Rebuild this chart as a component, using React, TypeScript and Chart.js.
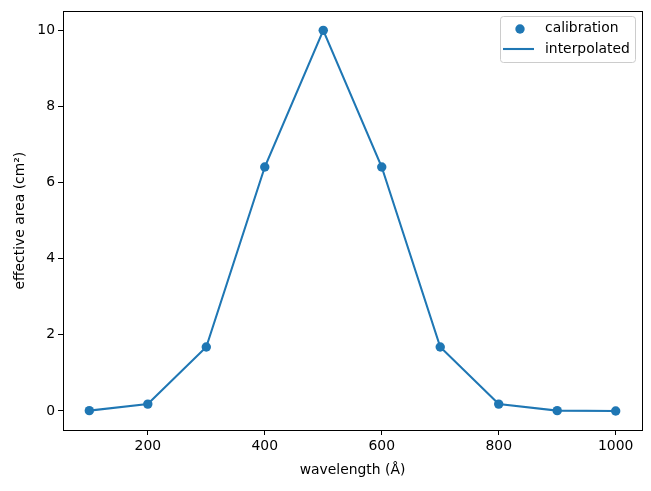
import React, { useEffect, useRef } from "react";
import { Chart, registerables } from "chart.js";

Chart.register(...registerables);

const wavelengths = [100, 200, 300, 400, 500, 600, 700, 800, 900, 1000];
const calibrationArea = [0.008, 0.18, 1.68, 6.41, 10, 6.41, 1.68, 0.18, 0.008, 0.0001];
const interpolatedArea = [0.008, 0.18, 1.68, 6.41, 10, 6.41, 1.68, 0.18, 0.008, 0.0001];
const xTicks = [200, 400, 600, 800, 1000];
const yTicks = [0, 2, 4, 6, 8, 10];
const seriesLabels = ["calibration", "interpolated"];

const BLUE = "#1f77b4";
const FONT = "DejaVu Sans";
const FS = 13.9;

const framePlugin = {
  id: "frame",
  afterDraw(chart: any) {
    const { ctx, chartArea: a } = chart;
    ctx.save();
    ctx.strokeStyle = "#000";
    ctx.lineWidth = 1;
    ctx.strokeRect(Math.round(a.left) + 0.5, Math.round(a.top) + 0.5, Math.round(a.right - a.left), Math.round(a.bottom - a.top));
    // legend
    const bx = 500.5, by = 16.5, bw = 135, bh = 46, r = 3;
    ctx.beginPath();
    ctx.moveTo(bx + r, by);
    ctx.lineTo(bx + bw - r, by);
    ctx.arcTo(bx + bw, by, bx + bw, by + r, r);
    ctx.lineTo(bx + bw, by + bh - r);
    ctx.arcTo(bx + bw, by + bh, bx + bw - r, by + bh, r);
    ctx.lineTo(bx + r, by + bh);
    ctx.arcTo(bx, by + bh, bx, by + bh - r, r);
    ctx.lineTo(bx, by + r);
    ctx.arcTo(bx, by, bx + r, by, r);
    ctx.closePath();
    ctx.fillStyle = "rgba(255,255,255,0.8)";
    ctx.fill();
    ctx.strokeStyle = "#cccccc";
    ctx.stroke();
    ctx.fillStyle = BLUE;
    ctx.beginPath();
    ctx.arc(520, 29, 4.7, 0, Math.PI * 2);
    ctx.fill();
    ctx.strokeStyle = BLUE;
    ctx.lineWidth = 2.1;
    ctx.beginPath();
    ctx.moveTo(503, 49);
    ctx.lineTo(534, 49);
    ctx.stroke();
    ctx.fillStyle = "#000";
    ctx.font = `${FS}px "${FONT}"`;
    ctx.textBaseline = "middle";
    ctx.textAlign = "left";
    ctx.fillText(seriesLabels[0], 545, 28);
    ctx.fillText(seriesLabels[1], 545, 49);
    ctx.restore();
  },
};

export default function App() {
  const ref = useRef<HTMLCanvasElement>(null);
  useEffect(() => {
    const chart = new Chart(ref.current!, {
      type: "scatter",
      data: {
        datasets: [
          {
            label: seriesLabels[0],
            data: wavelengths.map((x, i) => ({ x, y: calibrationArea[i] })),
            backgroundColor: BLUE,
            borderColor: BLUE,
            pointRadius: 4.7,
            pointBorderWidth: 0,
            showLine: false,
            order: 2,
          },
          {
            label: seriesLabels[1],
            data: wavelengths.map((x, i) => ({ x, y: interpolatedArea[i] })),
            borderColor: BLUE,
            backgroundColor: BLUE,
            borderWidth: 2.1,
            pointRadius: 0,
            showLine: true,
            order: 1,
          },
        ],
      },
      options: {
        responsive: false,
        animation: false,
        layout: { padding: { left: 0, right: 9, top: 9, bottom: 0 } },
        plugins: { legend: { display: false }, tooltip: { enabled: false } },
        scales: {
          x: {
            type: "linear",
            min: 55,
            max: 1045,
            afterBuildTicks: (s: any) => {
              s.ticks = xTicks.map((v) => ({ value: v }));
            },
            afterFit: (s: any) => {
              s.height = 61;
            },
            grid: { drawOnChartArea: false, drawTicks: true, tickLength: 5, color: "#000" },
            border: { display: false },
            ticks: {
              color: "#000",
              padding: 3,
              maxRotation: 0,
              font: { family: FONT, size: FS },
              callback: (v: any) => String(v),
            },
            title: {
              display: true,
              text: "wavelength (Å)",
              color: "#000",
              font: { family: FONT, size: FS },
              padding: { top: 4, bottom: 12 },
            },
          },
          y: {
            type: "linear",
            min: -0.5,
            max: 10.5,
            afterBuildTicks: (s: any) => {
              s.ticks = yTicks.map((v) => ({ value: v }));
            },
            afterFit: (s: any) => {
              s.width = 63;
            },
            grid: { drawOnChartArea: false, drawTicks: true, tickLength: 5, color: "#000" },
            border: { display: false },
            ticks: {
              color: "#000",
              padding: 3,
              font: { family: FONT, size: FS },
              callback: (v: any) => String(v),
            },
            title: {
              display: true,
              text: "effective area (cm²)",
              color: "#000",
              font: { family: FONT, size: FS },
              padding: { top: 12, bottom: 0 },
            },
          },
        },
      },
      plugins: [framePlugin],
    } as any);
    return () => chart.destroy();
  }, []);
  return (
    <div style={{ position: "absolute", left: 0, top: 0, width: 651, height: 491, background: "#fff" }}>
      <canvas ref={ref} width={651} height={491} style={{ display: "block" }} />
    </div>
  );
}
